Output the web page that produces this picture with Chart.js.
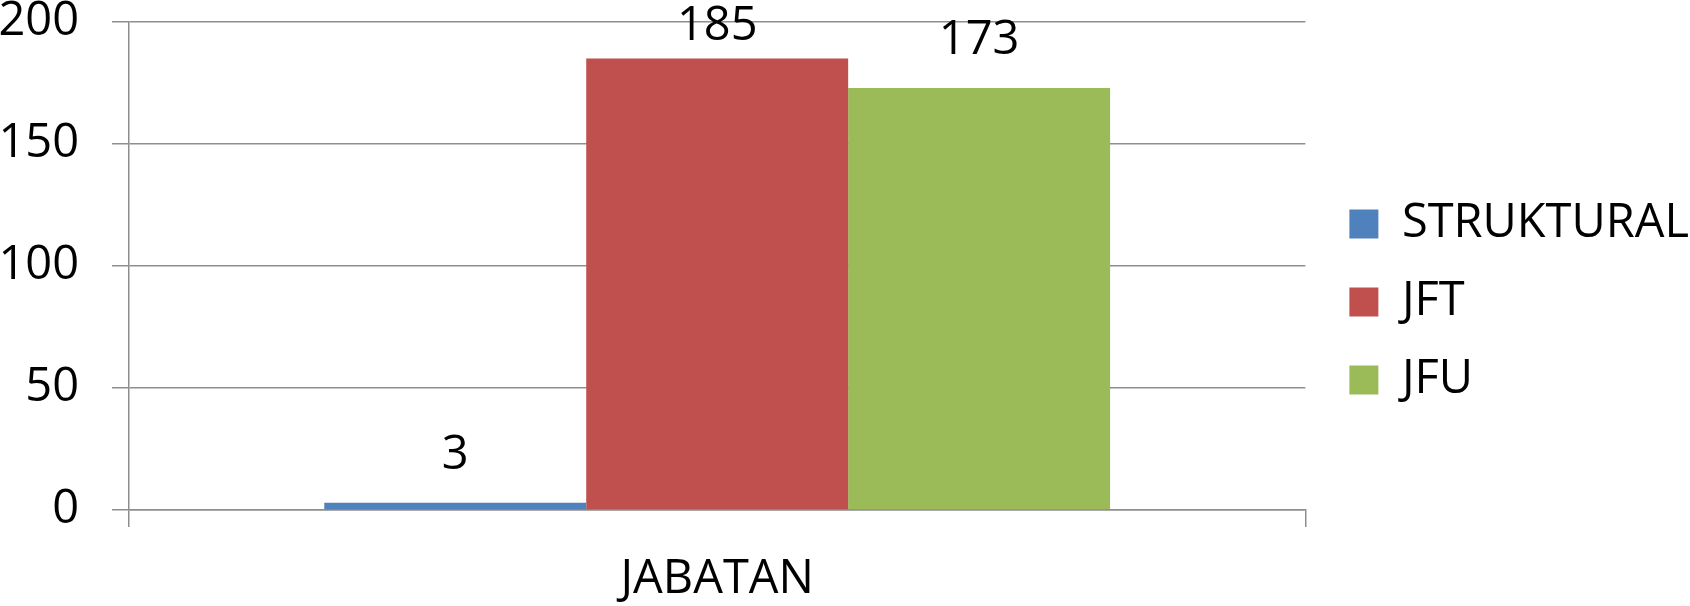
<!DOCTYPE html>
<html>
<head>
<meta charset="utf-8">
<script src="https://cdn.jsdelivr.net/npm/chart.js@4/dist/chart.umd.min.js"></script>
<style>
  body { margin: 0; background: #fff; }
  canvas { display: block; }
</style>
</head>
<body>
<canvas id="chart" width="1690" height="606"></canvas>
<script>
// Data
const categories = ['JABATAN'];
const seriesNames = ['STRUKTURAL', 'JFT', 'JFU'];
const strukturalValues = [3];
const jftValues = [185];
const jfuValues = [173];
const yTicks = [0, 50, 100, 150, 200];

const seriesColors = ['#4F81BD', '#C0504D', '#9BBB59'];
const gridColor = '#8E8E8E';
const FONT = '"Open Sans", "DejaVu Sans", sans-serif';
const FONT_SIZE = 47;

// value labels above bars (kept inside the plot top)
const valueLabels = {
    id: 'valueLabels',
    afterDatasetsDraw(chart) {
        const ctx = chart.ctx;
        ctx.save();
        ctx.font = `${FONT_SIZE}px ${FONT}`;
        ctx.fillStyle = '#000';
        ctx.textAlign = 'center';
        ctx.textBaseline = 'middle';
        chart.data.datasets.forEach((ds, i) => {
            chart.getDatasetMeta(i).data.forEach((bar, j) => {
                const y = Math.max(bar.y - 47, chart.chartArea.top + 5);
                ctx.fillText(String(ds.data[j]), bar.x, y);
            });
        });
        ctx.restore();
    }
};

// nudge the legend: box-to-text gap is smaller in the original
const legendNudge = {
    id: 'legendNudge',
    afterLayout(chart) {
        const lg = chart.legend;
        if (!lg) return;
        lg.left += 13;
        lg.right += 13;
        lg.top -= 12;
        lg.bottom -= 12;
    }
};

const allValues = [strukturalValues, jftValues, jfuValues];

new Chart(document.getElementById('chart'), {
    type: 'bar',
    data: {
        labels: categories,
        datasets: seriesNames.map((name, i) => ({
            label: name,
            data: allValues[i],
            backgroundColor: seriesColors[i],
            borderWidth: 0,
            barPercentage: 1,
            categoryPercentage: 0.668
        }))
    },
    options: {
        responsive: false,
        animation: false,
        layout: { padding: { top: 22, left: 0, right: 4, bottom: 0 } },
        plugins: {
            tooltip: { enabled: false },
            legend: {
                position: 'right',
                labels: {
                    boxWidth: 29,
                    boxHeight: 29,
                    padding: 31,
                    color: '#000',
                    font: { family: FONT, size: FONT_SIZE }
                }
            }
        },
        scales: {
            x: {
                grid: {
                    drawOnChartArea: false,
                    drawTicks: true,
                    tickLength: 17,
                    color: gridColor,
                    lineWidth: 1.5
                },
                border: { display: true, color: gridColor, width: 1.5 },
                ticks: {
                    color: '#000',
                    padding: 24,
                    font: { family: FONT, size: FONT_SIZE }
                },
                afterFit(scale) {
                    scale.height = 96;
                }
            },
            y: {
                min: 0,
                max: 200,
                afterBuildTicks(scale) {
                    scale.ticks = yTicks.map(v => ({ value: v }));
                },
                grid: {
                    drawTicks: true,
                    tickLength: 17,
                    color: gridColor,
                    lineWidth: 1.5
                },
                border: { display: true, color: gridColor, width: 1.5 },
                ticks: {
                    color: '#000',
                    padding: 33,
                    font: { family: FONT, size: FONT_SIZE }
                },
                afterFit(scale) {
                    scale.width = 129;
                    scale.paddingTop = 0;
                    scale.paddingBottom = 0;
                }
            }
        }
    },
    plugins: [valueLabels, legendNudge]
});
</script>
</body>
</html>
